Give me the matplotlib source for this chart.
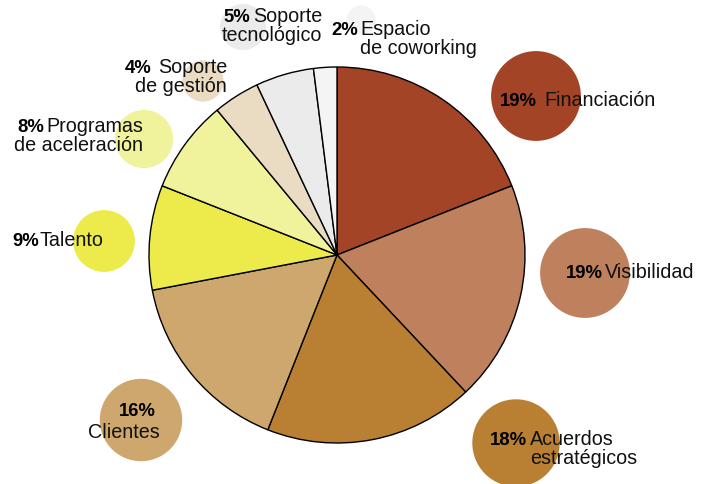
import numpy as np
import matplotlib
matplotlib.use("Agg")
import matplotlib.pyplot as plt
from matplotlib.patches import Circle

# data, clockwise from 12 o'clock
labels = ["Financiación", "Visibilidad", "Acuerdos\nestratégicos", "Clientes",
          "Talento", "Programas\nde aceleración", "Soporte\nde gestión",
          "Soporte\ntecnológico", "Espacio\nde coworking"]
values = [19, 19, 18, 16, 9, 8, 4, 5, 2]
colors = ["#A44427", "#BE805D", "#B98033", "#CDA76D", "#ECEB4B",
          "#F1F29C", "#EADCC3", "#EBEBEB", "#F4F4F4"]

# label layout in pixels: circle centre, pct (x, baseline, ha), name (x, baseline, ha)
circ_xy = [(536, 96), (585, 273), (516, 443), (141, 420), (104, 241),
           (144, 139), (203, 81), (243, 27), (361, 20)]
pct_pos = [(500, 106, "left"), (566, 278, "left"), (490, 445, "left"),
           (137, 416, "center"), (12, 246, "left"), (17, 132, "left"),
           (125, 73, "left"), (223, 22, "left"), (331, 35, "left")]
name_pos = [(544, 106, "left"), (605, 278, "left"), (530, 445, "left"),
            (124, 438, "center"), (39, 246, "left"), (143, 132, "right"),
            (227, 73, "right"), (322, 22, "right"), (360, 35, "left")]

W, H = 706, 484
fig = plt.figure(figsize=(W / 100, H / 100), dpi=100)
ax = fig.add_axes([0, 0, 1, 1])

ax.pie(values, colors=colors, center=(337, 255), radius=188,
       startangle=-90, counterclock=True,
       wedgeprops=dict(edgecolor="black", linewidth=1.0), frame=True)

for i in range(len(values)):
    r = 10.3 * np.sqrt(values[i])
    ax.add_patch(Circle(circ_xy[i], r, facecolor=colors[i], edgecolor="none", zorder=1))
    px, py, pha = pct_pos[i]
    ax.text(px, py, "%d%%" % values[i], ha=pha, va="baseline", fontsize=13.3,
            fontweight="bold", family=["Liberation Sans", "DejaVu Sans"], zorder=3)
    nx, ny, nha = name_pos[i]
    for j, line in enumerate(labels[i].split("\n")):
        ax.text(nx, ny + 19 * j, line, ha=nha, va="baseline", fontsize=14.2,
                family=["Liberation Sans", "DejaVu Sans"], color="#111111", zorder=3)

ax.set_xlim(0, W)
ax.set_ylim(H, 0)
ax.set_aspect("equal")
ax.axis("off")

fig.savefig("out.png", dpi=100)
